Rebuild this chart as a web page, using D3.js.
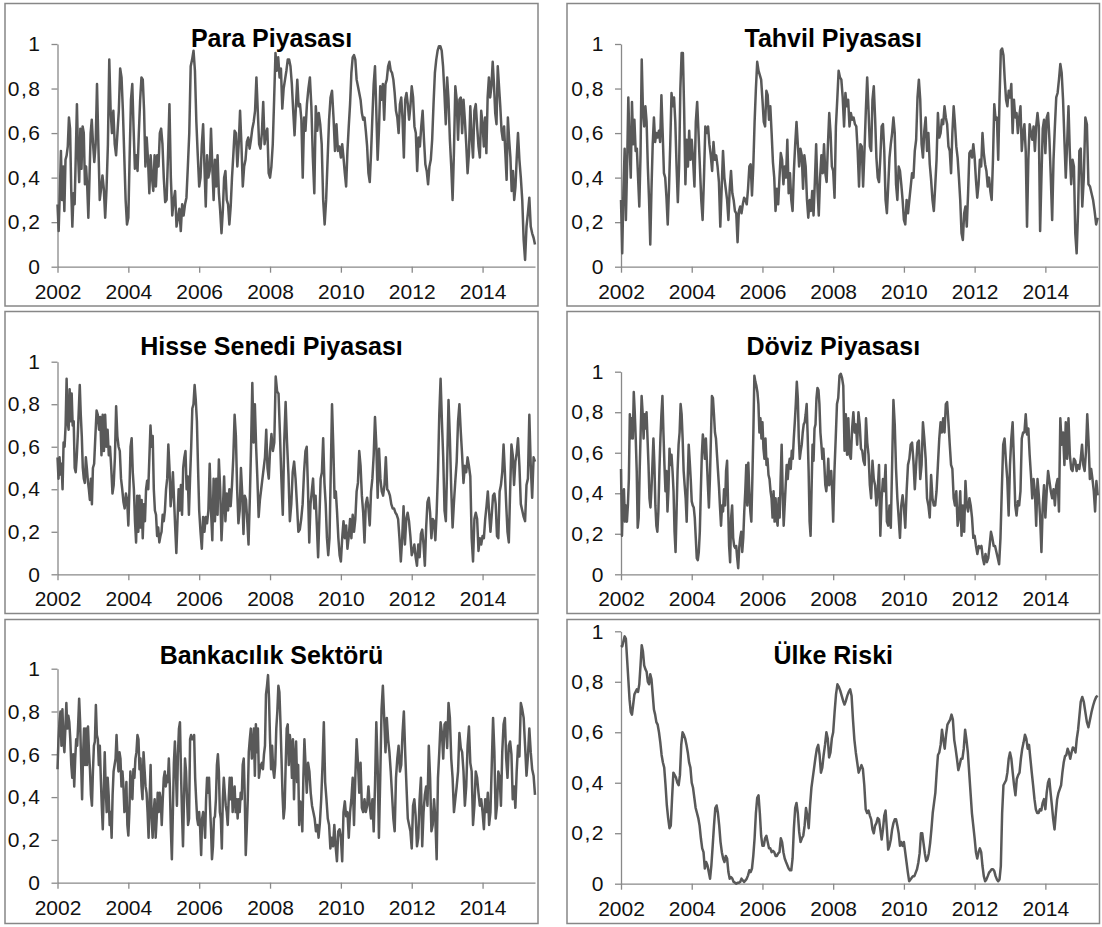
<!DOCTYPE html>
<html>
<head>
<meta charset="utf-8">
<script src="https://cdn.jsdelivr.net/npm/d3@7"></script>
<style>
  body { margin: 0; background: #fff; }
  svg { display: block; }
  text { font-family: "Liberation Sans", Arial, sans-serif; }
</style>
</head>
<body>
<svg id="chart" width="1102" height="927"></svg>
<script>
// Weekly stress sub-indices (0-1), one inner array per calendar year, 2002 .. mid-2015
const years = [2002, 2003, 2004, 2005, 2006, 2007, 2008, 2009, 2010, 2011, 2012, 2013, 2014, 2015];
const lastDate = 2015.48;
const xTicks = [2002, 2004, 2006, 2008, 2010, 2012, 2014];
const yTicks = [0, 0.2, 0.4, 0.6, 0.8, 1];
const titles = ["Para Piyasası", "Tahvil Piyasası", "Hisse Senedi Piyasası", "Döviz Piyasası", "Bankacılık Sektörü", "Ülke Riski"];

const paraPiyasasi = [
  [0.28,0.16,0.33,0.52,0.30,0.45,0.25,0.48,0.50,0.54,0.67,0.62,0.35,0.18,0.33,0.28,0.50,0.73,0.50,0.38,0.62,0.44,0.63,0.60,0.37,0.45,0.36,0.22,0.40,0.60,0.66],
  [0.56,0.47,0.55,0.82,0.55,0.30,0.35,0.41,0.35,0.22,0.35,0.55,0.93,0.70,0.60,0.70,0.55,0.50,0.60,0.70,0.89,0.85,0.70,0.50,0.30,0.19],
  [0.22,0.50,0.75,0.82,0.62,0.44,0.50,0.43,0.60,0.75,0.85,0.84,0.70,0.45,0.58,0.48,0.33,0.50,0.40,0.34,0.50,0.36,0.50,0.45,0.60,0.62,0.55],
  [0.40,0.29,0.30,0.50,0.73,0.40,0.23,0.30,0.34,0.18,0.22,0.26,0.16,0.28,0.23,0.28,0.31,0.45,0.60,0.90,0.93,0.97,0.88,0.65,0.50],
  [0.36,0.40,0.55,0.64,0.45,0.27,0.50,0.40,0.43,0.62,0.45,0.30,0.48,0.36,0.50,0.33,0.25,0.15,0.25,0.40,0.43,0.30,0.28,0.19,0.27,0.40,0.50],
  [0.61,0.60,0.45,0.55,0.70,0.55,0.36,0.45,0.48,0.56,0.58,0.53,0.57,0.62,0.65,0.70,0.85,0.70,0.55,0.53,0.60,0.74,0.55,0.60,0.62,0.42],
  [0.40,0.45,0.55,0.75,0.96,0.88,0.94,0.85,0.89,0.71,0.80,0.84,0.88,0.93,0.93,0.90,0.82,0.70,0.59,0.72,0.84,0.72,0.73,0.66,0.40,0.67],
  [0.61,0.73,0.80,0.85,0.72,0.49,0.33,0.72,0.61,0.69,0.64,0.55,0.30,0.19,0.30,0.48,0.66,0.76,0.79,0.67,0.52,0.64,0.52,0.54],
  [0.49,0.55,0.49,0.42,0.36,0.52,0.63,0.73,0.87,0.94,0.95,0.93,0.84,0.81,0.78,0.75,0.69,0.66,0.67,0.61,0.54,0.42,0.38,0.51,0.67,0.82,0.90],
  [0.70,0.48,0.61,0.81,0.75,0.82,0.66,0.82,0.84,0.90,0.92,0.88,0.87,0.84,0.78,0.70,0.67,0.60,0.73,0.76,0.66,0.49,0.75,0.78,0.73,0.66,0.72],
  [0.81,0.76,0.63,0.60,0.43,0.58,0.54,0.63,0.70,0.57,0.46,0.43,0.37,0.45,0.48,0.57,0.73,0.87,0.93,0.97,0.99,0.99,0.97,0.90,0.78,0.64],
  [0.85,0.75,0.57,0.45,0.30,0.52,0.81,0.75,0.57,0.75,0.76,0.60,0.75,0.66,0.55,0.42,0.51,0.72,0.58,0.49,0.70,0.73,0.63,0.54,0.49,0.70],
  [0.64,0.54,0.67,0.51,0.76,0.85,0.76,0.81,0.92,0.82,0.69,0.64,0.90,0.81,0.72,0.61,0.57,0.63,0.51,0.39,0.67,0.57,0.49,0.34,0.43,0.30,0.36,0.49],
  [0.60,0.48,0.40,0.30,0.12,0.03,0.18,0.24,0.31,0.18,0.15,0.13,0.10]
];

const tahvilPiyasasi = [
  [0.30,0.06,0.35,0.53,0.21,0.45,0.76,0.55,0.40,0.74,0.55,0.66,0.52,0.53,0.40,0.27,0.50,0.93,0.70,0.63,0.72,0.65,0.45,0.30,0.10,0.35,0.55,0.67,0.56],
  [0.60,0.58,0.61,0.56,0.77,0.60,0.42,0.40,0.31,0.19,0.35,0.55,0.78,0.72,0.76,0.65,0.45,0.29,0.45,0.80,0.96,0.96,0.70,0.37,0.57,0.45,0.61,0.48],
  [0.57,0.48,0.36,0.65,0.74,0.60,0.45,0.30,0.21,0.40,0.63,0.60,0.63,0.55,0.50,0.43,0.56,0.48,0.50,0.45,0.38,0.18,0.35,0.52,0.40,0.35],
  [0.30,0.21,0.35,0.43,0.33,0.30,0.25,0.24,0.11,0.25,0.27,0.24,0.28,0.31,0.30,0.28,0.35,0.45,0.46,0.32,0.45,0.65,0.80,0.92,0.88,0.86,0.84],
  [0.75,0.65,0.63,0.79,0.77,0.66,0.72,0.60,0.47,0.40,0.25,0.35,0.28,0.40,0.51,0.48,0.37,0.45,0.40,0.57,0.33,0.42,0.30,0.25,0.43,0.55,0.65],
  [0.55,0.45,0.53,0.50,0.35,0.50,0.45,0.30,0.22,0.30,0.25,0.34,0.23,0.38,0.55,0.35,0.23,0.40,0.50,0.42,0.55,0.42,0.38,0.55,0.69,0.60,0.45],
  [0.43,0.31,0.63,0.75,0.88,0.85,0.84,0.76,0.63,0.78,0.72,0.75,0.63,0.69,0.66,0.67,0.64,0.63,0.52,0.36,0.55,0.54,0.36,0.52,0.70,0.85],
  [0.70,0.54,0.52,0.75,0.81,0.67,0.49,0.40,0.38,0.49,0.63,0.64,0.52,0.30,0.24,0.36,0.49,0.55,0.60,0.67,0.60,0.37,0.30,0.45,0.43,0.37,0.30],
  [0.21,0.19,0.30,0.24,0.30,0.36,0.42,0.40,0.52,0.57,0.76,0.84,0.75,0.55,0.49,0.61,0.67,0.52,0.60,0.46,0.39,0.30,0.25,0.36,0.48,0.69],
  [0.58,0.60,0.66,0.64,0.72,0.67,0.64,0.54,0.52,0.42,0.60,0.72,0.64,0.54,0.49,0.40,0.30,0.15,0.12,0.24,0.27,0.18,0.33,0.51,0.52,0.49,0.55],
  [0.49,0.39,0.31,0.37,0.48,0.45,0.60,0.51,0.46,0.43,0.36,0.40,0.34,0.30,0.48,0.73,0.66,0.67,0.48,0.75,0.97,0.98,0.95,0.84,0.75,0.72,0.79],
  [0.76,0.82,0.60,0.75,0.67,0.69,0.60,0.67,0.72,0.52,0.60,0.64,0.52,0.18,0.48,0.64,0.60,0.57,0.63,0.52,0.63,0.69,0.63,0.16,0.40,0.62,0.66],
  [0.51,0.67,0.69,0.57,0.40,0.21,0.48,0.63,0.76,0.78,0.84,0.91,0.87,0.75,0.57,0.40,0.55,0.72,0.51,0.37,0.48,0.45,0.15,0.06,0.24,0.52],
  [0.53,0.27,0.40,0.67,0.64,0.37,0.36,0.33,0.30,0.25,0.19,0.22]
];

const hisseSenedi = [
  [0.55,0.45,0.55,0.47,0.52,0.40,0.62,0.60,0.70,0.92,0.72,0.68,0.87,0.72,0.85,0.70,0.72,0.50,0.48,0.55,0.65,0.77,0.89,0.75,0.65,0.50,0.45,0.43,0.55,0.50,0.44,0.40,0.35,0.45,0.33],
  [0.50,0.52,0.65,0.77,0.75,0.68,0.74,0.56,0.75,0.58,0.75,0.60,0.68,0.56,0.60,0.50,0.38,0.42,0.55,0.79,0.65,0.60,0.58,0.45,0.40,0.34,0.31,0.38,0.35],
  [0.23,0.40,0.60,0.64,0.48,0.40,0.25,0.15,0.37,0.20,0.37,0.22,0.35,0.17,0.33,0.25,0.40,0.44,0.40,0.55,0.70,0.60,0.65,0.40,0.30,0.28,0.18,0.22,0.15,0.18,0.20,0.28],
  [0.25,0.30,0.40,0.45,0.61,0.50,0.32,0.38,0.48,0.35,0.22,0.10,0.25,0.40,0.30,0.42,0.28,0.50,0.55,0.58,0.40,0.46,0.28,0.45,0.60,0.78,0.80,0.89,0.82,0.72,0.50],
  [0.30,0.20,0.12,0.27,0.20,0.27,0.24,0.30,0.52,0.30,0.16,0.45,0.25,0.45,0.28,0.54,0.40,0.16,0.30,0.46,0.25,0.38,0.30,0.40,0.32,0.42,0.55],
  [0.75,0.65,0.40,0.24,0.30,0.50,0.38,0.19,0.37,0.35,0.25,0.14,0.35,0.60,0.90,0.62,0.80,0.60,0.45,0.27,0.35,0.40,0.45,0.50,0.55,0.68,0.50,0.45],
  [0.58,0.66,0.58,0.62,0.93,0.86,0.85,0.66,0.45,0.28,0.62,0.81,0.62,0.47,0.25,0.33,0.48,0.53,0.45,0.33,0.20,0.21,0.26,0.33,0.48],
  [0.58,0.60,0.40,0.15,0.33,0.39,0.45,0.31,0.37,0.23,0.08,0.26,0.45,0.48,0.64,0.43,0.33,0.17,0.09,0.17,0.48,0.80,0.60,0.36,0.39,0.29,0.17,0.09],
  [0.06,0.17,0.25,0.17,0.23,0.12,0.18,0.26,0.17,0.28,0.20,0.26,0.39,0.43,0.58,0.51,0.37,0.29,0.15,0.33,0.36,0.31,0.23,0.39,0.45,0.56,0.74],
  [0.61,0.36,0.59,0.45,0.39,0.37,0.42,0.55,0.40,0.39,0.37,0.33,0.31,0.31,0.29,0.28,0.26,0.17,0.06,0.17,0.32,0.14,0.26,0.29,0.25,0.18],
  [0.09,0.11,0.14,0.08,0.04,0.14,0.08,0.19,0.21,0.14,0.04,0.22,0.34,0.36,0.29,0.17,0.26,0.25,0.16,0.29,0.48,0.75,0.92,0.72,0.55,0.30,0.25],
  [0.51,0.82,0.64,0.40,0.22,0.34,0.44,0.53,0.72,0.80,0.67,0.56,0.43,0.51,0.48,0.55,0.51,0.46,0.17,0.06,0.26,0.29,0.26,0.11,0.17,0.14],
  [0.18,0.17,0.26,0.32,0.39,0.29,0.20,0.28,0.37,0.38,0.33,0.18,0.17,0.39,0.42,0.48,0.61,0.48,0.33,0.20,0.15,0.39,0.61,0.56,0.42,0.53,0.57],
  [0.64,0.51,0.33,0.30,0.27,0.25,0.42,0.45,0.75,0.51,0.36,0.55,0.53]
];

const dovizPiyasasi = [
  [0.52,0.19,0.375,0.42,0.26,0.34,0.26,0.34,0.47,0.79,0.67,0.77,0.67,0.90,0.80,0.67,0.51,0.23,0.28,0.51,0.70,0.88,0.80,0.67,0.79,0.72,0.80,0.67,0.54,0.375,0.33,0.42,0.54,0.67,0.54,0.34],
  [0.24,0.21,0.31,0.51,0.67,0.79,0.88,0.70,0.54,0.41,0.51,0.31,0.42,0.62,0.54,0.59,0.51,0.41,0.21,0.11,0.31,0.51,0.64,0.70,0.84,0.79,0.67,0.51,0.44,0.375,0.26,0.46,0.64,0.56,0.47],
  [0.36,0.34,0.33,0.28,0.18,0.08,0.07,0.11,0.21,0.41,0.59,0.69,0.64,0.57,0.67,0.56,0.44,0.33,0.47,0.67,0.88,0.87,0.79,0.70,0.67,0.59,0.51,0.43,0.33,0.24,0.34,0.31,0.42,0.34,0.51],
  [0.56,0.34,0.14,0.06,0.28,0.34,0.18,0.14,0.13,0.14,0.08,0.03,0.13,0.18,0.21,0.11,0.18,0.31,0.41,0.54,0.34,0.55,0.41,0.31,0.26,0.47,0.70,0.98,0.95,0.93,0.90,0.84,0.70,0.77,0.67],
  [0.75,0.62,0.57,0.67,0.54,0.57,0.49,0.47,0.41,0.375,0.28,0.41,0.26,0.375,0.28,0.24,0.375,0.28,0.47,0.64,0.41,0.24,0.34,0.44,0.54,0.47,0.54,0.57,0.52,0.61,0.57,0.67,0.75,0.84,0.95],
  [0.87,0.67,0.57,0.61,0.64,0.70,0.74,0.75,0.79,0.84,0.69,0.51,0.26,0.19,0.42,0.64,0.56,0.72,0.74,0.87,0.92,0.91,0.84,0.70,0.64,0.57,0.62,0.54,0.44,0.41,0.47,0.57,0.44,0.47,0.51,0.41],
  [0.26,0.51,0.67,0.84,0.87,0.98,0.99,0.97,0.93,0.61,0.79,0.59,0.77,0.59,0.57,0.72,0.80,0.70,0.74,0.64,0.80,0.74,0.62,0.61,0.56,0.54,0.77,0.65],
  [0.59,0.44,0.375,0.56,0.47,0.44,0.34,0.41,0.54,0.19,0.375,0.47,0.41,0.54,0.26,0.24,0.34,0.23,0.54,0.86,0.74,0.52,0.375,0.28,0.18,0.34,0.39],
  [0.33,0.23,0.41,0.54,0.57,0.64,0.65,0.56,0.42,0.54,0.65,0.66,0.47,0.54,0.75,0.67,0.57,0.375,0.34,0.28,0.49,0.375,0.34,0.34,0.41,0.54],
  [0.67,0.75,0.70,0.77,0.70,0.84,0.85,0.75,0.64,0.54,0.52,0.375,0.34,0.41,0.24,0.28,0.41,0.19,0.34,0.21,0.46,0.34,0.31,0.375,0.34,0.28,0.18],
  [0.19,0.14,0.10,0.14,0.13,0.14,0.08,0.05,0.10,0.06,0.08,0.14,0.21,0.18,0.14,0.14,0.11,0.08,0.05,0.18,0.42,0.64,0.67,0.56,0.47,0.29],
  [0.54,0.67,0.75,0.56,0.34,0.29,0.36,0.34,0.41,0.67,0.70,0.70,0.79,0.69,0.72,0.59,0.49,0.375,0.47,0.41,0.24,0.47,0.39,0.28,0.11,0.34,0.44],
  [0.28,0.41,0.51,0.46,0.41,0.375,0.42,0.34,0.44,0.47,0.31,0.77,0.64,0.70,0.54,0.75,0.57,0.77,0.59,0.52,0.51,0.57,0.56,0.51,0.54,0.52],
  [0.57,0.64,0.54,0.51,0.605,0.79,0.655,0.47,0.52,0.47,0.41,0.31,0.46,0.39]
];

const bankacilik = [
  [0.53,0.67,0.75,0.80,0.64,0.81,0.67,0.61,0.72,0.84,0.72,0.78,0.75,0.67,0.55,0.49,0.60,0.45,0.58,0.67,0.64,0.74,0.86,0.75,0.56,0.39,0.60,0.72,0.55,0.72,0.55,0.73,0.61,0.53,0.41,0.36],
  [0.52,0.64,0.66,0.83,0.69,0.67,0.55,0.64,0.49,0.36,0.25,0.42,0.61,0.44,0.33,0.49,0.41,0.27,0.33,0.21,0.41,0.52,0.55,0.58,0.69,0.58,0.52,0.61,0.58,0.45,0.52,0.45,0.33,0.35,0.47,0.27],
  [0.22,0.33,0.52,0.45,0.39,0.53,0.49,0.58,0.61,0.69,0.67,0.53,0.58,0.45,0.39,0.61,0.53,0.45,0.42,0.33,0.21,0.39,0.55,0.30,0.21,0.33,0.39,0.21,0.30,0.42,0.33,0.42,0.39,0.27,0.39],
  [0.49,0.52,0.45,0.50,0.47,0.58,0.45,0.25,0.11,0.33,0.56,0.66,0.52,0.36,0.60,0.72,0.75,0.52,0.33,0.17,0.39,0.58,0.52,0.39,0.27,0.30,0.67,0.69,0.67,0.67,0.69,0.49,0.39,0.30,0.27],
  [0.33,0.25,0.13,0.30,0.33,0.30,0.21,0.39,0.49,0.42,0.49,0.36,0.25,0.11,0.17,0.30,0.31,0.39,0.55,0.60,0.52,0.33,0.30,0.16,0.39,0.49,0.42,0.36,0.33,0.27,0.39,0.49,0.39,0.49,0.33,0.41],
  [0.45,0.33,0.39,0.30,0.39,0.33,0.42,0.39,0.55,0.58,0.41,0.13,0.25,0.39,0.61,0.67,0.72,0.58,0.64,0.72,0.50,0.74,0.61,0.72,0.49,0.53,0.55,0.56,0.53,0.60,0.64,0.88,0.92,0.97,0.86],
  [0.67,0.53,0.64,0.53,0.49,0.55,0.72,0.80,0.92,0.89,0.75,0.58,0.41,0.30,0.35,0.55,0.72,0.74,0.55,0.69,0.64,0.49,0.67,0.39,0.58,0.66,0.47,0.55,0.27,0.38,0.36,0.24,0.49,0.67],
  [0.56,0.42,0.56,0.52,0.42,0.36,0.33,0.30,0.24,0.27,0.21,0.28,0.39,0.55,0.75,0.47,0.39,0.30,0.27,0.16,0.21,0.17,0.27,0.17,0.10,0.24,0.25],
  [0.21,0.10,0.33,0.38,0.31,0.33,0.21,0.33,0.39,0.49,0.27,0.49,0.67,0.56,0.42,0.56,0.35,0.33,0.39,0.33,0.36,0.45,0.36,0.30,0.39,0.24,0.45],
  [0.75,0.55,0.21,0.49,0.81,0.92,0.77,0.61,0.77,0.67,0.61,0.52,0.41,0.30,0.24,0.49,0.58,0.64,0.52,0.55,0.70,0.80,0.61,0.45,0.30,0.27,0.24],
  [0.16,0.36,0.39,0.31,0.17,0.21,0.39,0.49,0.17,0.33,0.41,0.45,0.36,0.64,0.49,0.24,0.27,0.39,0.30,0.11,0.49,0.61,0.75,0.70,0.58,0.74,0.75],
  [0.63,0.84,0.77,0.58,0.49,0.33,0.39,0.45,0.52,0.70,0.63,0.61,0.52,0.36,0.45,0.64,0.73,0.56,0.52,0.27,0.36,0.52,0.49,0.42,0.36,0.39],
  [0.33,0.25,0.39,0.33,0.42,0.27,0.33,0.55,0.77,0.61,0.30,0.36,0.52,0.49,0.36,0.61,0.74,0.77,0.58,0.49,0.64,0.66,0.60,0.39,0.45,0.35,0.52],
  [0.64,0.59,0.84,0.81,0.77,0.64,0.50,0.59,0.72,0.61,0.53,0.50,0.41]
];

const ulkeRiski = [
  [0.945,0.94,0.96,0.98,0.97,0.89,0.81,0.73,0.68,0.67,0.71,0.75,0.76,0.77,0.76,0.79,0.865,0.945,0.92,0.865,0.85,0.84,0.80,0.79,0.83,0.81,0.75,0.69,0.67],
  [0.64,0.63,0.60,0.56,0.51,0.48,0.46,0.39,0.31,0.26,0.22,0.23,0.34,0.44,0.43,0.42,0.40,0.39,0.43,0.55,0.60,0.59,0.575,0.55,0.52,0.48,0.46],
  [0.40,0.38,0.34,0.30,0.28,0.26,0.23,0.18,0.14,0.125,0.06,0.086,0.073,0.046,0.02,0.073,0.15,0.23,0.30,0.31,0.28,0.23,0.165,0.125,0.10,0.086,0.11],
  [0.10,0.046,0.02,0.026,0.02,0.007,0.004,0.0,0.004,0.004,0.007,0.02,0.013,0.007,0.013,0.02,0.033,0.053,0.046,0.06,0.11,0.18,0.28,0.34,0.35,0.28,0.19],
  [0.15,0.15,0.18,0.19,0.165,0.14,0.14,0.125,0.13,0.125,0.11,0.11,0.12,0.125,0.18,0.165,0.125,0.10,0.086,0.073,0.06,0.053,0.053,0.10,0.22,0.30,0.32],
  [0.28,0.205,0.165,0.18,0.19,0.23,0.30,0.27,0.22,0.31,0.38,0.42,0.46,0.50,0.535,0.55,0.51,0.44,0.46,0.51,0.55,0.60,0.575,0.50,0.52,0.575],
  [0.60,0.68,0.75,0.79,0.78,0.765,0.745,0.725,0.71,0.725,0.745,0.76,0.77,0.745,0.65,0.57,0.52,0.48,0.44,0.455,0.47,0.455,0.39,0.295,0.28],
  [0.29,0.27,0.255,0.215,0.20,0.23,0.24,0.26,0.255,0.215,0.175,0.215,0.27,0.29,0.215,0.135,0.15,0.175,0.215,0.24,0.255,0.255,0.23,0.20,0.15,0.165,0.15],
  [0.165,0.125,0.085,0.045,0.01,0.017,0.024,0.03,0.03,0.044,0.057,0.083,0.12,0.20,0.20,0.16,0.12,0.09,0.097,0.12,0.16,0.215,0.28,0.32,0.36,0.44,0.51],
  [0.52,0.55,0.61,0.57,0.535,0.59,0.63,0.64,0.65,0.67,0.65,0.57,0.535,0.495,0.45,0.47,0.495,0.495,0.535,0.61,0.57,0.52,0.44,0.36,0.28,0.23],
  [0.18,0.125,0.10,0.125,0.14,0.125,0.07,0.03,0.01,0.017,0.03,0.044,0.05,0.057,0.057,0.05,0.03,0.017,0.01,0.017,0.07,0.28,0.39,0.40,0.41,0.44,0.495],
  [0.52,0.495,0.44,0.39,0.35,0.415,0.43,0.44,0.495,0.535,0.56,0.59,0.575,0.535,0.55,0.495,0.44,0.39,0.335,0.295,0.28,0.28,0.295,0.29,0.32,0.335],
  [0.295,0.36,0.40,0.415,0.36,0.31,0.255,0.215,0.28,0.335,0.36,0.375,0.39,0.44,0.48,0.505,0.51,0.535,0.52,0.495,0.52,0.54,0.535,0.52,0.575,0.61,0.665],
  [0.72,0.74,0.72,0.68,0.64,0.62,0.65,0.68,0.705,0.725,0.74,0.745]
];

const seriesList = [paraPiyasasi, tahvilPiyasasi, hisseSenedi, dovizPiyasasi, bankacilik, ulkeRiski];

// Panel frames and plot areas, two columns by three rows
const panels = [
  { box: [5, 3.5, 538, 306],    plot: { left: 57.5, right: 535,    top: 44,    bottom: 266.7 }, titleY: 46.5 },
  { box: [567, 3.5, 1099.5, 306], plot: { left: 621, right: 1097.7, top: 44,    bottom: 266.7 }, titleY: 46.5 },
  { box: [5, 311.5, 538, 613.5],  plot: { left: 57.5, right: 535,    top: 361.7, bottom: 574.3 }, titleY: 355 },
  { box: [567, 311.5, 1099.5, 613.5], plot: { left: 621, right: 1097.7, top: 371.7, bottom: 574.3 }, titleY: 355 },
  { box: [5, 619.5, 538, 923.5],  plot: { left: 57.5, right: 535,    top: 668.7, bottom: 882.7 }, titleY: 663.5 },
  { box: [567, 619.5, 1099.5, 923.5], plot: { left: 621, right: 1097.7, top: 631.3, bottom: 883.7 }, titleY: 663.5 }
];

// Spread each year's weekly readings evenly across that year
function toPoints(chunks) {
  return chunks.flatMap((vals, k) => {
    const start = years[k];
    const isLast = k === chunks.length - 1;
    return vals.map((v, i) => ({
      t: isLast ? start + (lastDate - start) * i / (vals.length - 1) : start + i / vals.length,
      v
    }));
  });
}

const yFormat = d => (d === 0 ? "0" : d === 1 ? "1" : d3.format(".1f")(d).replace(".", ","));
const svg = d3.select("#chart");
const axisColor = "#898989";

panels.forEach((p, idx) => {
  const g = svg.append("g");
  const [bx0, by0, bx1, by1] = p.box;

  g.append("rect")
    .attr("x", bx0).attr("y", by0)
    .attr("width", bx1 - bx0).attr("height", by1 - by0)
    .attr("fill", "#fff")
    .attr("stroke", "#878787")
    .attr("stroke-width", 1.5);

  const x = d3.scaleLinear().domain([years[0], lastDate]).range([p.plot.left, p.plot.right]);
  const y = d3.scaleLinear().domain([0, 1]).range([p.plot.bottom, p.plot.top]);

  const xAxis = g.append("g")
    .attr("transform", `translate(0,${p.plot.bottom})`)
    .call(d3.axisBottom(x).tickValues(xTicks).tickFormat(d3.format("d"))
      .tickSizeInner(6).tickSizeOuter(0).tickPadding(11));

  const yAxis = g.append("g")
    .attr("transform", `translate(${p.plot.left},0)`)
    .call(d3.axisLeft(y).tickValues(yTicks).tickFormat(yFormat)
      .tickSizeInner(6).tickSizeOuter(0).tickPadding(10));

  [xAxis, yAxis].forEach(ax => {
    ax.attr("font-family", null).attr("font-size", null);
    ax.select(".domain").attr("stroke", axisColor).attr("stroke-width", 1.3);
    ax.selectAll(".tick line").attr("stroke", axisColor).attr("stroke-width", 1.3);
    ax.selectAll(".tick text")
      .attr("fill", "#111")
      .style("font-family", '"Liberation Sans", Arial, sans-serif')
      .style("font-size", "21px");
  });
  // value labels use a slightly looser spacing
  yAxis.selectAll(".tick text").style("letter-spacing", "1.5px");

  const line = d3.line().x(d => x(d.t)).y(d => y(d.v));
  g.append("path")
    .datum(toPoints(seriesList[idx]))
    .attr("d", line)
    .attr("fill", "none")
    .attr("stroke", "#595959")
    .attr("stroke-width", 2.5)
    .attr("stroke-linejoin", "round");

  g.append("text")
    .attr("x", (bx0 + bx1) / 2)
    .attr("y", p.titleY)
    .attr("text-anchor", "middle")
    .attr("font-weight", "bold")
    .attr("font-size", 25)
    .attr("fill", "#000")
    .text(titles[idx]);
});
</script>
</body>
</html>
